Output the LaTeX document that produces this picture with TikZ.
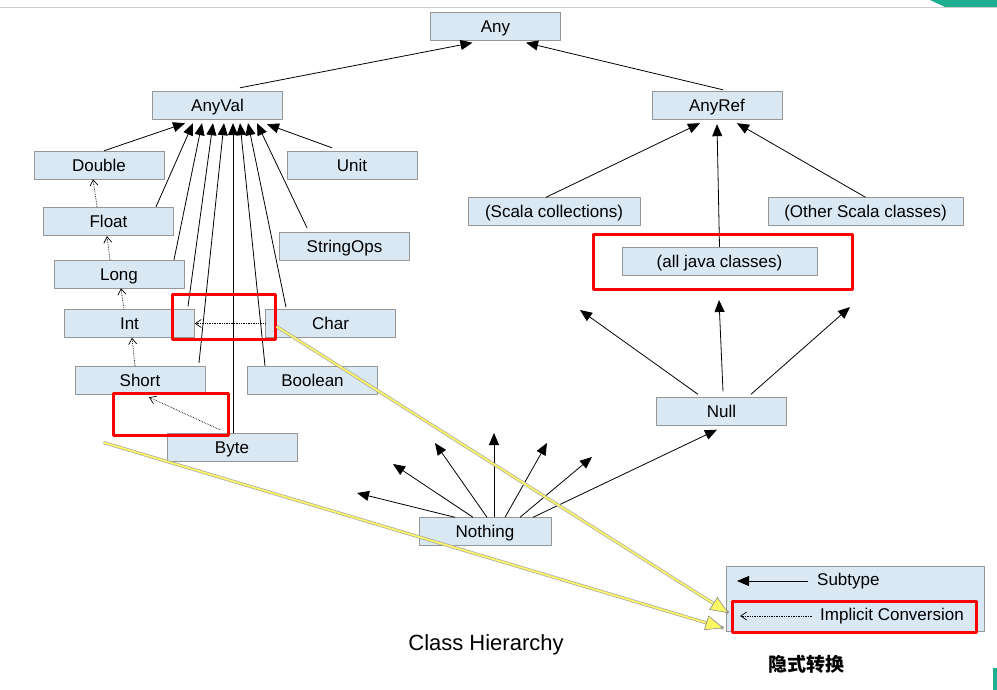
\documentclass[tikz,border=0pt]{standalone}
\usepackage{fontspec}
\setmainfont{Liberation Sans}
\newfontfamily\cjk{Noto Sans CJK SC}
\usetikzlibrary{arrows.meta}
\definecolor{boxblue}{RGB}{218,232,244}
\definecolor{boxline}{RGB}{150,150,150}
\definecolor{hintyellow}{RGB}{252,247,100}
\definecolor{cornergreen}{RGB}{30,175,145}
\begin{document}
\begin{tikzpicture}[x=1pt, y=-1pt, font=\fontsize{17}{20}\selectfont, line join=round,
	cls/.style={draw=boxline, fill=boxblue, minimum width=130pt, minimum height=28pt, inner sep=0pt, text height=12.5pt, text depth=0pt},
	sub/.style={line width=0.8pt, -{Triangle[length=12pt,width=10pt]}},
	impl/.style={line width=0.7pt, densely dotted, -{Straight Barb[length=6pt,width=8pt]}},
	redbox/.style={draw=red, line width=3pt, inner sep=0pt},
	hint/.style={draw=hintyellow, line width=1.8pt, preaction={draw=black!35, line width=3.2pt, -}, -{Triangle[length=18pt,width=15pt,color=black!45,fill=hintyellow,line width=0.6pt]}}]
	\useasboundingbox (0,0) rectangle (997,690);
	\draw[black!20] (0,7) -- (997,7);
	\fill[cornergreen] (930,0) -- (997,0) -- (997,7) -- (945,7) -- cycle;
	\fill[cornergreen] (993,668) rectangle (997,690);
	% value classes
	\node[cls] (any) at (495.5,26.5) {Any};
	\node[cls] (anyval) at (217.5,105) {AnyVal};
	\node[cls] (anyref) at (717,105) {AnyRef};
	\node[cls] (double) at (99,165) {Double};
	\node[cls] (unit) at (352,165) {Unit};
	\node[cls] (float) at (108.5,221) {Float};
	\node[cls] (stringops) at (344.5,246) {StringOps};
	\node[cls] (long) at (119,274) {Long};
	\node[cls] (int) at (129.5,323.5) {Int};
	\node[cls] (char) at (330.5,323.5) {Char};
	\node[cls] (short) at (140,380) {Short};
	\node[cls] (boolean) at (312.5,380) {Boolean};
	\node[cls] (byte) at (232,447) {Byte};
	% reference classes
	\node[cls, minimum width=172pt] (scalacoll) at (554,211.5) {(Scala collections)};
	\node[cls, minimum width=195pt] (otherscala) at (865.5,211.5) {(Other Scala classes)};
	\node[cls, minimum width=195pt] (java) at (719.5,261) {(all java classes)};
	\node[cls] (null) at (721.5,411.5) {Null};
	\node[cls, minimum width=132pt] (nothing) at (485,531.5) {Nothing};
	\coordinate (nl1) at (580,310);
	\coordinate (nl2) at (719,300);
	\coordinate (nl3) at (850,307);
	\coordinate (nt1) at (357,493);
	\coordinate (nt2) at (393,464);
	\coordinate (nt3) at (435,443);
	\coordinate (nt4) at (494,433);
	\coordinate (nt5) at (547,443);
	\coordinate (nt6) at (592,457);
	% subtype arrows
	\draw[sub] ([xshift=22.5pt,yshift=3pt]anyval.north) -- ([xshift=-23pt,yshift=-2pt]any.south);
	\draw[sub] ([xshift=6pt,yshift=1pt]anyref.north) -- ([xshift=30.5pt,yshift=-2pt]any.south);
	\draw[sub] ([xshift=5pt]double.north) -- ([xshift=-32.5pt,yshift=-4pt]anyval.south);
	\draw[sub] ([xshift=47.5pt]float.north) -- ([xshift=-24.5pt,yshift=-4pt]anyval.south);
	\draw[sub] ([xshift=55pt]long.north) -- ([xshift=-15.5pt,yshift=-4pt]anyval.south);
	\draw[sub] ([xshift=58.5pt,yshift=3pt]int.north) -- ([xshift=-4.5pt,yshift=-4pt]anyval.south);
	\draw[sub] ([xshift=59pt,yshift=3pt]short.north) -- ([xshift=6.5pt,yshift=-4pt]anyval.south);
	\draw[sub] ([xshift=1pt]byte.north) -- ([xshift=15.5pt,yshift=-4pt]anyval.south);
	\draw[sub] ([xshift=-47.5pt]boolean.north) -- ([xshift=22.5pt,yshift=-4pt]anyval.south);
	\draw[sub] ([xshift=-44.5pt,yshift=2pt]char.north) -- ([xshift=30.5pt,yshift=-4pt]anyval.south);
	\draw[sub] ([xshift=-37.5pt,yshift=4pt]stringops.north) -- ([xshift=39.5pt,yshift=-4pt]anyval.south);
	\draw[sub] ([xshift=-20pt,yshift=3pt]unit.north) -- ([xshift=49.5pt,yshift=-5pt]anyval.south);
	\draw[sub] ([xshift=-8pt]scalacoll.north) -- ([xshift=-17pt,yshift=-4pt]anyref.south);
	\draw[sub] (java.north) -- ([yshift=-5pt]anyref.south);
	\draw[sub] (otherscala.north) -- ([xshift=20pt,yshift=-4pt]anyref.south);
	\draw[sub] ([xshift=-23.5pt,yshift=3pt]null.north) -- (nl1);
	\draw[sub] ([xshift=1.5pt,yshift=6pt]null.north) -- (nl2);
	\draw[sub] ([xshift=29.5pt,yshift=3pt]null.north) -- (nl3);
	\draw[sub] ([xshift=-30pt]nothing.north) -- (nt1);
	\draw[sub] ([xshift=-12pt]nothing.north) -- (nt2);
	\draw[sub] ([xshift=2pt]nothing.north) -- (nt3);
	\draw[sub] ([xshift=9pt]nothing.north) -- (nt4);
	\draw[sub] ([xshift=20pt]nothing.north) -- (nt5);
	\draw[sub] ([xshift=35pt]nothing.north) -- (nt6);
	\draw[sub] ([xshift=48pt]nothing.north) -- ([xshift=-4.5pt,yshift=-4pt]null.south);
	% implicit conversions
	\draw[impl] ([xshift=-11.5pt]float.north) -- ([xshift=-6pt]double.south);
	\draw[impl] ([xshift=-9pt]long.north) -- ([xshift=-1.5pt,yshift=-1pt]float.south);
	\draw[impl] ([xshift=-5.5pt]int.north) -- ([xshift=2pt]long.south);
	\draw[impl] ([xshift=-5pt]short.north) -- ([xshift=2.5pt]int.south);
	\draw[impl] ([xshift=-12pt,yshift=3pt]byte.north) -- ([xshift=9pt,yshift=-3pt]short.south);
	\draw[impl] (char.west) -- (int.east);
	% legend
	\node[cls, minimum width=258pt, minimum height=65pt] (legend) at (855,598.5) {};
	\node[anchor=west, inner sep=1pt] (subtype) at (816,581) {Subtype};
	\node[anchor=west, inner sep=1pt] (implicit) at (819,616) {Implicit Conversion};
	\coordinate (subend) at (737,581);
	\coordinate (implend) at (740,616);
	\draw[sub] ([xshift=-8pt]subtype.west) -- (subend);
	\draw[impl] ([xshift=-7pt]implicit.west) -- (implend);
	\node[font=\fontsize{22}{26}\selectfont] (title) at (486,645) {Class Hierarchy};
	\node[font=\cjk\bfseries\fontsize{19}{22}\selectfont] (cn) at (806,664) {隐式转换};
	% highlights
	\node[redbox, minimum width=103pt, minimum height=45pt] (hl1) at (223.5,316.5) {};
	\node[redbox, minimum width=115pt, minimum height=42pt] (hl2) at (170.5,414) {};
	\node[redbox, minimum width=259pt, minimum height=54pt] (hl3) at (722.5,262) {};
	\node[redbox, minimum width=244pt, minimum height=31pt] (hl4) at (854,616.5) {};
	\draw[hint] ([yshift=-10pt]hl1.east) -- ([xshift=-2pt,yshift=3.5pt]hl4.west);
	\draw[hint] ([xshift=-8pt,yshift=-6pt]hl2.south west) -- ([xshift=-7pt,yshift=-11.5pt]hl4.west);
\end{tikzpicture}
\end{document}
